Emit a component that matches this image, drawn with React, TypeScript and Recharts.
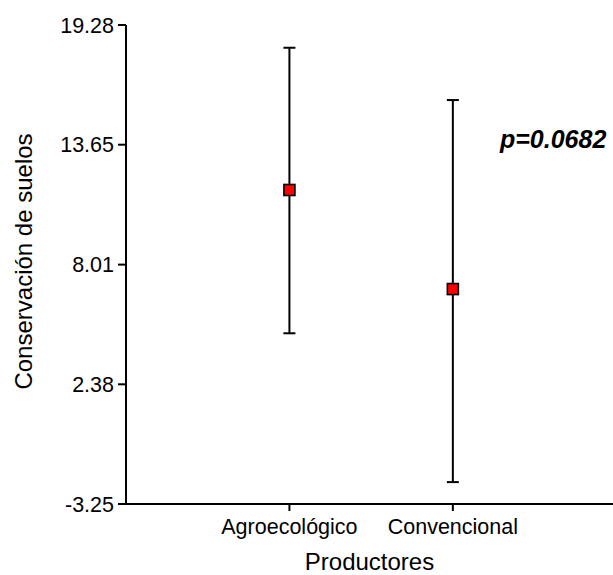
import { ScatterChart, Scatter, XAxis, YAxis, ErrorBar } from 'recharts';

const categories = ['Agroecológico', 'Convencional'];
const means = [11.52, 6.86];
const upper = [18.21, 15.75];
const lower = [4.78, -2.22];
const yTicks = [-3.25, 2.38, 8.01, 13.65, 19.28];

const data = categories.map((name, i) => ({
  x: i + 1,
  name,
  y: means[i],
  err: [means[i] - lower[i], upper[i] - means[i]],
}));

const FONT = '"Liberation Sans", Arial, sans-serif';

function SquareDot(props: any) {
  const { cx, cy } = props;
  return <rect x={cx - 5.5} y={cy - 5.5} width={11} height={11} fill="#ff0000" stroke="#000" strokeWidth={1.6} />;
}

function YTitle(props: any) {
  const vb = props.viewBox || { y: 25, height: 479 };
  const cy = vb.y + vb.height / 2 - 3;
  return (
    <text
      x={32}
      y={cy}
      transform={`rotate(-90, 32, ${cy})`}
      textAnchor="middle"
      fontSize={24}
      fontFamily={FONT}
      fill="#000"
    >
      Conservación de suelos
    </text>
  );
}

export default function App() {
  return (
    <div style={{ position: 'absolute', left: 0, top: 0, width: 613, height: 575 }}>
      <ScatterChart
        width={613}
        height={575}
        margin={{ top: 25, right: 0, bottom: 0, left: 0 }}
        style={{ fontFamily: FONT }}
      >
        <XAxis
          type="number"
          dataKey="x"
          domain={[0, 2.98]}
          ticks={[1, 2]}
          interval={0}
          height={71}
          tickSize={7}
          tickMargin={8}
          tickFormatter={(v: number) => categories[v - 1] ?? ''}
          tick={{ fill: '#000', fontSize: 21.5 }}
          axisLine={{ stroke: '#000', strokeWidth: 2 }}
          tickLine={{ stroke: '#000', strokeWidth: 2 }}
          label={{ value: 'Productores', position: 'insideBottom', offset: 5, fill: '#000', fontSize: 24 }}
        />
        <YAxis
          type="number"
          dataKey="y"
          domain={[-3.25, 19.28]}
          ticks={yTicks}
          interval={0}
          allowDataOverflow
          width={126}
          tickSize={8}
          tickMargin={4}
          tickFormatter={(v: number) => v.toFixed(2)}
          tick={{ fill: '#000', fontSize: 21.5 }}
          axisLine={{ stroke: '#000', strokeWidth: 2 }}
          tickLine={{ stroke: '#000', strokeWidth: 2 }}
          label={<YTitle />}
        />
        <Scatter data={data} shape={<SquareDot />} isAnimationActive={false}>
          <ErrorBar dataKey="err" direction="y" width={6} stroke="#000" strokeWidth={2} isAnimationActive={false} />
        </Scatter>
      </ScatterChart>
      <svg
        width={613}
        height={575}
        style={{ position: 'absolute', left: 0, top: 0, pointerEvents: 'none' }}
      >
        <text x={500} y={148} fontSize={25} fontWeight="bold" fontStyle="italic" fontFamily={FONT} fill="#000">
          p=0.0682
        </text>
      </svg>
    </div>
  );
}
